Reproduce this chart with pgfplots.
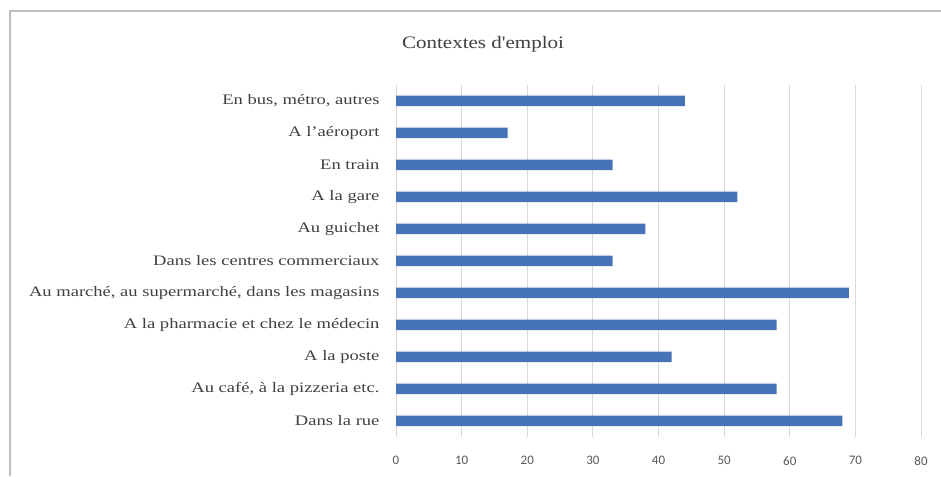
\documentclass[border=0pt]{standalone}
\usepackage{pgfplots}
\pgfplotsset{compat=1.18}
\usepackage{fontspec}
\setmainfont{Liberation Serif}[FakeStretch=1.28]
\newfontfamily\titlefont{Liberation Serif}[FakeStretch=1.2]
\newfontfamily\numfont{Carlito}
\definecolor{barblue}{RGB}{70,114,184}
\definecolor{txtgray}{RGB}{64,64,64}
\definecolor{tickgray}{RGB}{89,89,89}
\definecolor{gridgray}{RGB}{217,217,217}
\definecolor{framegray}{RGB}{190,190,190}
\begin{document}
\begin{tikzpicture}[x=1pt,y=1pt]
\useasboundingbox (0,0) rectangle (941,476);
\fill[white] (0,0) rectangle (941,476);
\draw[framegray,line width=1.5pt] (10,0) -- (10,465) -- (941,465);
\node[font=\titlefont\fontsize{17.5}{20}\selectfont, text=txtgray] at (483,432) {Contextes d'emploi};
\begin{axis}[
  at={(396pt,39pt)}, anchor=south west,
  scale only axis, width=525pt, height=352pt,
  xbar, bar width=10.5pt,
  xmin=0, xmax=80, ymin=-0.5, ymax=10.5,
  xtick={0,10,...,80},
  ytick={0,...,10},
  yticklabels={Dans la rue, {Au café, à la pizzeria etc.}, A la poste, A la pharmacie et chez le médecin, {Au marché, au supermarché, dans les magasins}, Dans les centres commerciaux, Au guichet, A la gare, En train, A l'aéroport, {En bus, métro, autres}},
  axis line style={draw=none},
  major tick length=0pt,
  xmajorgrids, major grid style={gridgray, line width=0.8pt},
  xticklabel style={font=\numfont\fontsize{13}{14}\selectfont, text=tickgray, yshift=-16pt},
  /pgf/number format/assume math mode=true,
  yticklabel style={font=\fontsize{14.5}{16}\selectfont, text=txtgray, xshift=-13pt},
]
\addplot[fill=barblue, draw=none] coordinates {
(68,0) (58,1) (42,2) (58,3) (69,4) (33,5) (38,6) (52,7) (33,8) (17,9) (44,10)
};
\end{axis}
\end{tikzpicture}
\end{document}
